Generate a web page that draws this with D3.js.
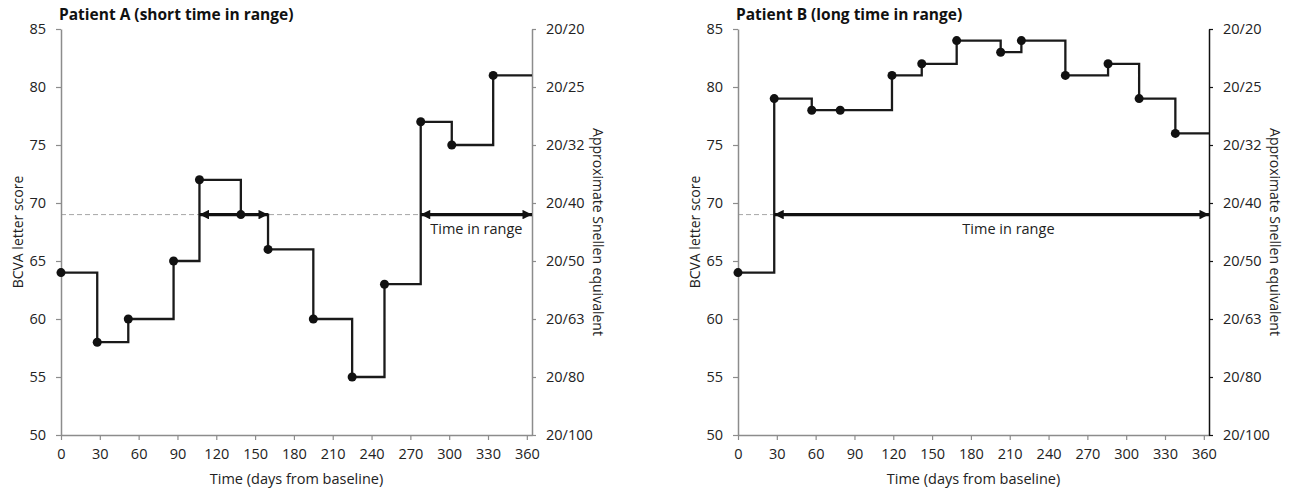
<!DOCTYPE html>
<html>
<head>
<meta charset="utf-8">
<script src="https://cdn.jsdelivr.net/npm/d3@7"></script>
<style>
  body { margin: 0; background: #fff; }
  svg { display: block; font-family: "Open Sans", sans-serif; }
</style>
</head>
<body>
<svg width="1290" height="490"></svg>
<script>
// valores
var xTicks = [0, 30, 60, 90, 120, 150, 180, 210, 240, 270, 300, 330, 360];
var yTicks = [50, 55, 60, 65, 70, 75, 80, 85];
var snellenLabels = ["20/100", "20/80", "20/63", "20/50", "20/40", "20/32", "20/25", "20/20"];
var threshold = 69;

var daysA = [0, 28, 52, 87, 107, 139, 160, 195, 225, 250, 278, 302, 334];
var scoresA = [64, 58, 60, 65, 72, 69, 66, 60, 55, 63, 77, 75, 81];

var daysB = [0, 28, 57, 79, 119, 142, 169, 203, 219, 253, 286, 310, 338];
var scoresB = [64, 79, 78, 78, 81, 82, 84, 83, 84, 81, 82, 79, 76];

// tramos "time in range" [inicio, fin] en dias
var rangesA = [[107, 160], [278, 364]];
var rangesB = [[28, 364]];

var svg = d3.select("svg");

// punta de flecha
var defs = svg.append("defs");
defs.append("marker")
    .attr("id", "arrow")
    .attr("viewBox", "0 0 10 10")
    .attr("refX", 10).attr("refY", 5)
    .attr("markerWidth", 3.6).attr("markerHeight", 2.8)
    .attr("markerUnits", "strokeWidth")
    .attr("orient", "auto-start-reverse")
    .append("path")
    .attr("d", "M0,0 L10,5 L0,10 Z")
    .attr("fill", "#111");

function panel(opts) {
  var g = svg.append("g");
  var x = d3.scaleLinear().domain([0, 364]).range([opts.left, opts.right]);
  var y = d3.scaleLinear().domain([50, 85]).range([435, 29]);

  // linea discontinua del umbral
  g.append("line")
    .attr("x1", x(0)).attr("x2", x(364))
    .attr("y1", y(threshold)).attr("y2", y(threshold))
    .attr("stroke", "#a6a6a6").attr("stroke-width", 1)
    .attr("stroke-dasharray", "5,3");

  // eje izquierdo
  var yAxis = g.append("g")
    .attr("transform", "translate(" + x(0) + ",0)")
    .call(d3.axisLeft(y).tickValues(yTicks).tickSize(5).tickSizeOuter(0).tickPadding(10));
  // eje inferior
  var xAxis = g.append("g")
    .attr("transform", "translate(0," + y(50) + ")")
    .call(d3.axisBottom(x).tickValues(xTicks).tickSize(5).tickSizeOuter(0).tickPadding(9));
  // eje derecho Snellen
  var rAxis = g.append("g")
    .attr("transform", "translate(" + x(364) + ",0)")
    .call(d3.axisRight(y).tickValues(yTicks)
      .tickFormat(function(d, i) { return snellenLabels[i]; })
      .tickSize(4).tickSizeOuter(0).tickPadding(10));

  [yAxis, xAxis, rAxis].forEach(function(a, i) {
    var col = (i == 2) ? opts.rightColor : "#8c8c8c";
    a.select(".domain").attr("stroke", col).attr("stroke-width", 1.5);
    a.selectAll(".tick line").attr("stroke", col).attr("stroke-width", 1.2);
    a.selectAll("text").attr("font-size", 14.5).attr("fill", "#222")
      .attr("font-family", "Open Sans, sans-serif");
  });

  // titulos
  g.append("text")
    .attr("x", opts.left - 2).attr("y", 20)
    .attr("font-size", 15.5).attr("font-weight", "bold").attr("fill", "#111")
    .text(opts.title);
  g.append("text")
    .attr("x", (x(0) + x(364)) / 2).attr("y", 484)
    .attr("text-anchor", "middle").attr("font-size", 14.5).attr("fill", "#222")
    .text("Time (days from baseline)");
  g.append("text")
    .attr("transform", "translate(" + (opts.left - 38) + "," + y(67.5) + ") rotate(-90)")
    .attr("text-anchor", "middle").attr("font-size", 14).attr("fill", "#222")
    .text("BCVA letter score");
  g.append("text")
    .attr("transform", "translate(" + (opts.right + 61) + "," + y(67.5) + ") rotate(90)")
    .attr("text-anchor", "middle").attr("font-size", 14).attr("fill", "#222")
    .text("Approximate Snellen equivalent");

  // serie escalonada
  var pts = opts.days.map(function(d, i) { return [d, opts.scores[i]]; });
  pts.push([364, opts.scores[opts.scores.length - 1]]);
  var line = d3.line()
    .x(function(d) { return x(d[0]); })
    .y(function(d) { return y(d[1]); })
    .curve(d3.curveStepAfter);
  g.append("path")
    .attr("d", line(pts))
    .attr("fill", "none").attr("stroke", "#1a1a1a").attr("stroke-width", 2.3);

  // flechas time in range
  opts.ranges.forEach(function(r) {
    g.append("line")
      .attr("x1", x(r[0])).attr("x2", x(r[1]))
      .attr("y1", y(threshold)).attr("y2", y(threshold))
      .attr("stroke", "#111").attr("stroke-width", 3.4)
      .attr("marker-start", "url(#arrow)")
      .attr("marker-end", "url(#arrow)");
  });
  g.append("text")
    .attr("x", x(opts.labelDay)).attr("y", y(threshold) + 19)
    .attr("text-anchor", "middle").attr("font-size", 14.5).attr("fill", "#222")
    .text("Time in range");

  // puntos
  g.selectAll("circle")
    .data(opts.days)
    .enter().append("circle")
    .attr("cx", function(d) { return x(d); })
    .attr("cy", function(d, i) { return y(opts.scores[i]); })
    .attr("r", 4.5)
    .attr("fill", "#111");
}

panel({ left: 61, right: 532, title: "Patient A (short time in range)",
        days: daysA, scores: scoresA, ranges: rangesA, labelDay: 321, rightColor: "#8c8c8c" });
panel({ left: 738, right: 1209, title: "Patient B (long time in range)",
        days: daysB, scores: scoresB, ranges: rangesB, labelDay: 209, rightColor: "#111" });
</script>
</body>
</html>
